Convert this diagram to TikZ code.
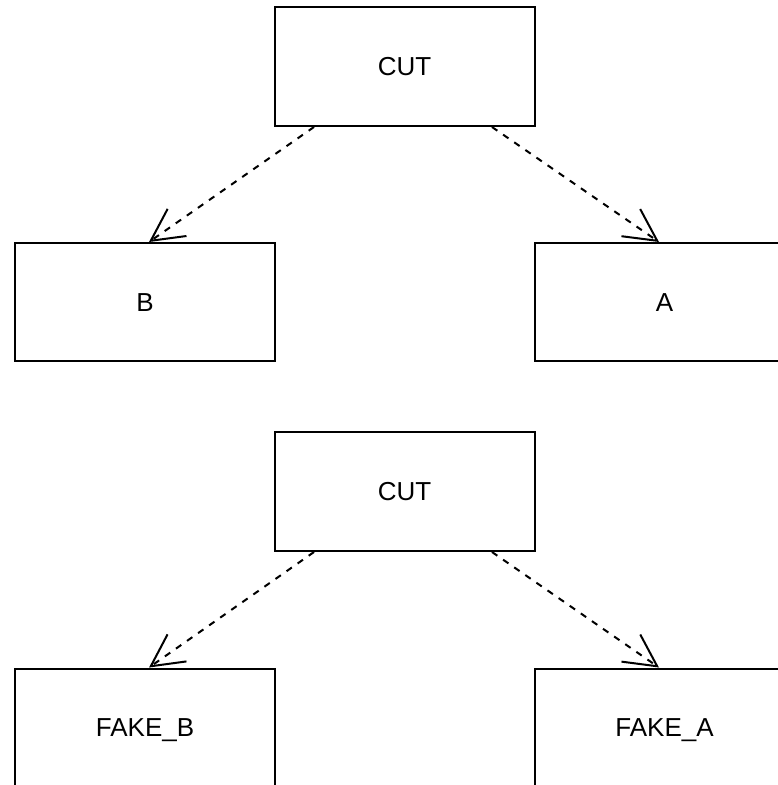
\documentclass[tikz,border=0pt]{standalone}
\usepackage{fontspec}
\setmainfont{Liberation Sans}
\usetikzlibrary{arrows.meta}
\begin{document}
\begin{tikzpicture}[x=1pt,y=-1pt,
  box/.style={draw=black, line width=2pt, rectangle, minimum width=260pt, inner sep=0pt,
    font=\fontsize{26}{30}\selectfont, text height=18.6pt, text depth=0pt},
  link/.style={draw=black, line width=2pt, dash pattern=on 6.5pt off 7pt,
    -{Straight Barb[length=32pt,width=33pt,line width=2pt]}}]
\useasboundingbox (0,0) rectangle (778,785);
\node[box, minimum height=119pt] (cut1) at (404.5,66.5) {CUT};
\node[box, minimum height=118pt] (b) at (145,302) {B};
\node[box, minimum height=118pt] (a) at (664.5,302) {A};
\node[box, minimum height=119pt] (cut2) at (404.5,491.5) {CUT};
\node[box, minimum height=118pt] (fb) at (145,727.5) {FAKE\_B};
\node[box, minimum height=118pt] (fa) at (664.5,727.5) {FAKE\_A};
\draw[link] ([xshift=40.5pt]cut1.south west) -- ([xshift=135pt]b.north west);
\draw[link] ([xshift=218.5pt]cut1.south west) -- ([xshift=125.5pt]a.north west);
\draw[link] ([xshift=40.5pt]cut2.south west) -- ([xshift=135pt]fb.north west);
\draw[link] ([xshift=218.5pt]cut2.south west) -- ([xshift=125.5pt]fa.north west);
\end{tikzpicture}
\end{document}
